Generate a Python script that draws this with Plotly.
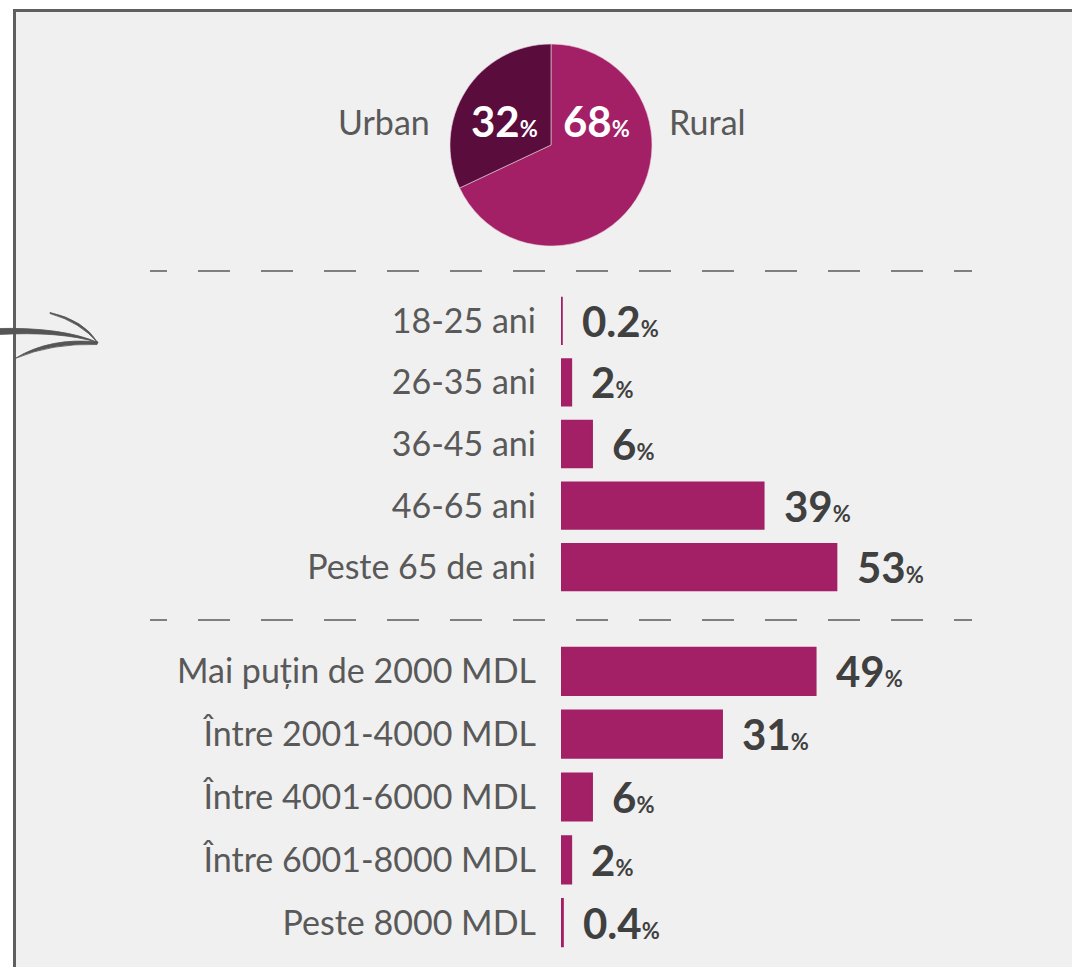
import plotly.graph_objects as go

W, H = 1072, 967

# data
area_labels = ["Rural", "Urban"]
area_values = [68, 32]
area_colors = ["#a31f66", "#5a0c3c"]

age_groups = ["18-25 ani", "26-35 ani", "36-45 ani", "46-65 ani", "Peste 65 de ani"]
age_values = [0.2, 2, 6, 39, 53]

income_groups = ["Mai puțin de 2000 MDL", "Între 2001-4000 MDL", "Între 4001-6000 MDL",
                 "Între 6001-8000 MDL", "Peste 8000 MDL"]
income_values = [49, 31, 6, 2, 0.4]

BAR = "#a31f66"
LABEL = "#595959"
NUM = "#404040"
FONT = "Lato"


def px(x):
    return x / W


def py(y):
    return 1 - y / H


def pct(v, size=22):
    return f"<b>{v:g}</b><b><span style='font-size:{size}px'>%</span></b>"


fig = go.Figure()

fig.add_trace(go.Pie(
    labels=area_labels, values=area_values, sort=False,
    direction="clockwise", rotation=0,
    marker=dict(colors=area_colors, line=dict(color="#e8d0dc", width=0.6)),
    textinfo="none", hoverinfo="label+percent", showlegend=False,
    domain=dict(x=[px(450), px(652)], y=[py(246), py(44)]),
))

bar_style = dict(color=BAR, line=dict(color=BAR, width=1.5))
fig.add_trace(go.Bar(
    x=age_values, y=age_groups, orientation="h", marker=bar_style,
    xaxis="x", yaxis="y", showlegend=False,
))
fig.add_trace(go.Bar(
    x=income_values, y=income_groups, orientation="h", marker=bar_style,
    xaxis="x", yaxis="y2", showlegend=False,
))

annotations = []
for v, c in zip(age_values, age_groups):
    annotations.append(dict(x=v, y=c, xref="x", yref="y", text=pct(v), showarrow=False,
                            xanchor="left", yanchor="middle", xshift=18,
                            font=dict(family=FONT, size=42, color=NUM)))
for v, c in zip(income_values, income_groups):
    annotations.append(dict(x=v, y=c, xref="x", yref="y2", text=pct(v), showarrow=False,
                            xanchor="left", yanchor="middle", xshift=18,
                            font=dict(family=FONT, size=42, color=NUM)))

# pie labels
annotations += [
    dict(x=px(504), y=py(121), xref="paper", yref="paper", text=pct(area_values[1]),
         xanchor="center", yanchor="middle", showarrow=False,
         font=dict(family=FONT, size=42, color="white")),
    dict(x=px(596), y=py(121), xref="paper", yref="paper", text=pct(area_values[0]),
         xanchor="center", yanchor="middle", showarrow=False,
         font=dict(family=FONT, size=42, color="white")),
    dict(x=px(432), y=py(122), xref="paper", yref="paper", text=area_labels[1],
         xanchor="right", yanchor="middle", showarrow=False,
         font=dict(family=FONT, size=34, color=LABEL)),
    dict(x=px(667), y=py(122), xref="paper", yref="paper", text=area_labels[0],
         xanchor="left", yanchor="middle", showarrow=False,
         font=dict(family=FONT, size=34, color=LABEL)),
]


def dash_pattern(first, dash, gap, total):
    parts = [first, gap]
    length = first + gap
    while length < total:
        parts += [dash, gap]
        length += dash + gap
    return ",".join(f"{p}px" for p in parts)


def path(points):
    out = []
    for cmd, *coords in points:
        xy = " ".join(f"{px(coords[i]):.5f},{py(coords[i + 1]):.5f}" for i in range(0, len(coords), 2))
        out.append(f"{cmd} {xy}".strip())
    return " ".join(out)


shapes = [
    dict(type="rect", xref="paper", yref="paper", x0=px(14.5), x1=px(1100), y0=py(10.5), y1=py(1000),
         fillcolor="#f0f0f0", line=dict(color="#5f5f5f", width=3), layer="below"),
]
for yy in (271, 620):
    shapes.append(dict(type="line", xref="paper", yref="paper", x0=px(150), x1=px(972),
                       y0=py(yy), y1=py(yy),
                       line=dict(color="#7f7f7f", width=2, dash=dash_pattern(17, 32, 31, 830))))

# hand-drawn arrow, tapered strokes
arrow = [
    [("M", -2, 328.5), ("Q", 62, 327, 98, 342.5), ("Q", 60, 331, -2, 334.5), ("Z",)],
    [("M", 50, 312.5), ("Q", 84, 320, 98, 343), ("Q", 80, 322, 50, 313.5), ("Z",)],
    [("M", 98, 342), ("Q", 50, 337, 15, 358.5), ("Q", 52, 343, 97, 344.5), ("Z",)],
]
for a in arrow:
    shapes.append(dict(type="path", xref="paper", yref="paper", path=path(a),
                       fillcolor="#555555", line=dict(color="#555555", width=0.8)))

fig.update_layout(
    width=W, height=H,
    margin=dict(l=0, r=0, t=0, b=0),
    paper_bgcolor="white", plot_bgcolor="rgba(0,0,0,0)",
    font=dict(family=FONT, color=LABEL),
    bargap=0.24,
    xaxis=dict(domain=[px(561), px(561 + 90 * 5.2)], range=[0, 90], visible=False,
               anchor="y", fixedrange=True),
    yaxis=dict(domain=[py(598), py(290)], autorange="reversed", anchor="x",
               showgrid=False, zeroline=False, showline=False, ticks="",
               ticklabelstandoff=24, tickfont=dict(family=FONT, size=34, color=LABEL)),
    yaxis2=dict(domain=[py(954), py(640)], autorange="reversed", anchor="x",
                showgrid=False, zeroline=False, showline=False, ticks="",
                ticklabelstandoff=24, tickfont=dict(family=FONT, size=34, color=LABEL)),
    annotations=annotations,
    shapes=shapes,
)

fig.write_html("out.html", config={"displayModeBar": False},
               post_script="document.body.style.margin='0';document.body.style.overflow='hidden';")
